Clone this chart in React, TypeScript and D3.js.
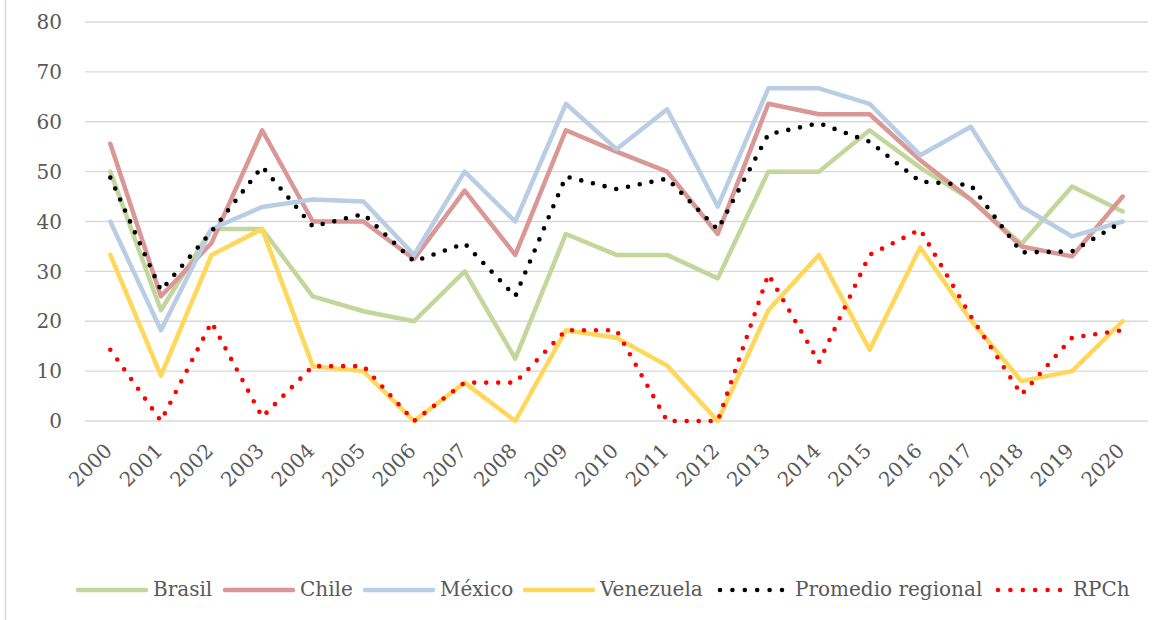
import React from "react";
import * as d3 from "d3";

const years = ["2000","2001","2002","2003","2004","2005","2006","2007","2008","2009","2010","2011","2012","2013","2014","2015","2016","2017","2018","2019","2020"];

const brasil = [50, 22.2, 38.5, 38.5, 25, 22, 20, 30, 12.5, 37.5, 33.3, 33.3, 28.6, 50, 50, 58.3, 50.8, 44.4, 35.5, 47, 42];
const chile = [55.6, 25, 35.7, 58.3, 40, 40, 32.5, 46.2, 33.3, 58.3, 54, 50, 37.5, 63.6, 61.5, 61.5, 52.3, 44.4, 35, 33, 45];
const mexico = [40, 18.2, 38.5, 42.9, 44.4, 44, 33.3, 50, 40, 63.6, 54.5, 62.5, 43, 66.7, 66.7, 63.6, 53.3, 59, 43, 37, 40];
const venezuela = [33.3, 9.1, 33.3, 38.5, 11, 10, 0, 7.7, 0, 18.2, 16.7, 11.1, 0, 22.2, 33.3, 14.3, 34.8, 20.2, 8, 10, 20];
const promedio = [48.8, 26.2, 38, 51, 39, 41.5, 32, 35.6, 25, 49, 46.5, 48.6, 38.4, 57.5, 59.7, 56, 48, 47.3, 33.8, 34, 40];
const rpch = [14.3, 0, 19.8, 0.8, 11, 11, 0, 7.7, 7.7, 18.2, 18.2, 0, 0, 29.4, 11.8, 33.3, 38.4, 21, 5.3, 16.7, 18.2];

const yTicks = [0, 10, 20, 30, 40, 50, 60, 70, 80];

type Series = { name: string; values: number[]; color: string; dotted: boolean };

const series: Series[] = [
  { name: "Brasil", values: brasil, color: "#C3D69B", dotted: false },
  { name: "Chile", values: chile, color: "#D99795", dotted: false },
  { name: "México", values: mexico, color: "#B9CDE5", dotted: false },
  { name: "Venezuela", values: venezuela, color: "#FFD75A", dotted: false },
  { name: "Promedio regional", values: promedio, color: "#000000", dotted: true },
  { name: "RPCh", values: rpch, color: "#FF0000", dotted: true },
];

const W = 1170;
const H = 620;
const plotLeft = 85;
const plotRight = 1148;
const plotTop = 22;
const plotBottom = 421;
const FONT = "'DejaVu Serif', serif";
const TEXT = "#595959";

export default function App() {
  const x = d3.scaleBand<string>().domain(years).range([plotLeft, plotRight]);
  const cx = (yr: string) => (x(yr) as number) + x.bandwidth() / 2;
  const y = d3.scaleLinear().domain([0, 80]).range([plotBottom, plotTop]);

  const line = d3
    .line<number>()
    .x((_, i) => cx(years[i]))
    .y((v) => y(v));

  // legend layout: swatch, gap, label, spacing
  const legendY = 589;
  const swatchW = 72;
  const legendStart = [76, 223, 363, 523, 718, 996];

  return (
    <svg
      width={W}
      height={H}
      style={{ position: "absolute", left: 0, top: 0, background: "#fff" }}
      fontFamily={FONT}
    >
      <rect x={0} y={0} width={W} height={H} fill="#fff" />
      <line x1={5.5} x2={5.5} y1={0} y2={H} stroke="#d9d9d9" strokeWidth={1.5} />

      {yTicks.map((t) => (
        <g key={t}>
          <line x1={plotLeft} x2={plotRight} y1={y(t)} y2={y(t)} stroke="#d9d9d9" strokeWidth={1.4} />
          <text x={62} y={y(t)} dy="0.36em" textAnchor="end" fontSize={20} fill={TEXT}>
            {t}
          </text>
        </g>
      ))}

      {years.map((yr) => (
        <text
          key={yr}
          transform={`translate(${cx(yr) + 3},${452}) rotate(-45)`}
          textAnchor="end"
          fontSize={20}
          fill={TEXT}
        >
          {yr}
        </text>
      ))}

      {series.map((s) => (
        <path
          key={s.name}
          d={line(s.values) || ""}
          fill="none"
          stroke={s.color}
          strokeWidth={s.dotted ? 4.6 : 4.5}
          strokeLinejoin="round"
          strokeLinecap="round"
          strokeDasharray={s.dotted ? "0 12" : undefined}
        />
      ))}

      {series.map((s, i) => {
        const x0 = legendStart[i];
        return (
          <g key={s.name}>
            <line
              x1={x0 + 2}
              x2={x0 + swatchW - 2}
              y1={legendY + 1}
              y2={legendY + 1}
              stroke={s.color}
              strokeWidth={s.dotted ? 4.6 : 4.5}
              strokeLinecap="round"
              strokeDasharray={s.dotted ? "0 12.4" : undefined}
            />
            <text x={x0 + swatchW + 5} y={legendY} dy="0.36em" fontSize={20} fill={TEXT}>
              {s.name}
            </text>
          </g>
        );
      })}
    </svg>
  );
}
